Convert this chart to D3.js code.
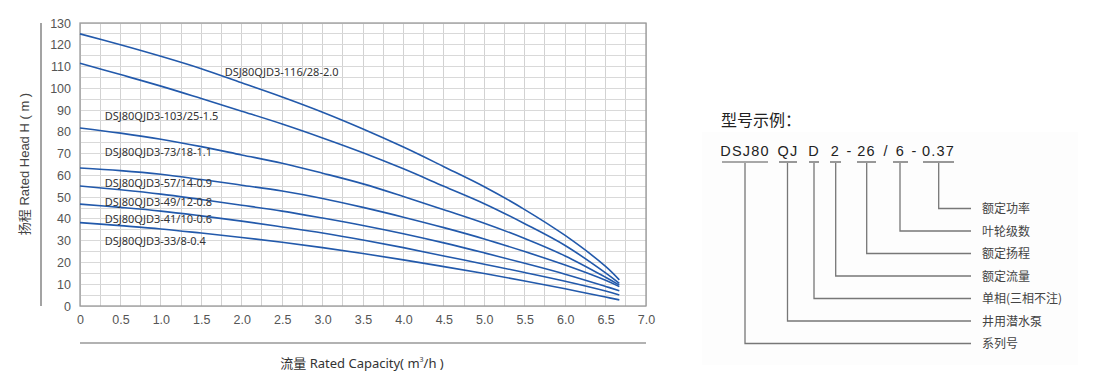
<!DOCTYPE html>
<html>
<head>
<meta charset="utf-8">
<script src="https://cdn.jsdelivr.net/npm/d3@7/dist/d3.min.js"></script>
<style>
  html, body { margin: 0; padding: 0; background: #fff; }
  svg { display: block; }
</style>
</head>
<body>
<svg id="chart" width="1100" height="390"></svg>
<script>
// ---------------- data ----------------
const flow = [0, 0.5, 1.0, 1.5, 2.0, 2.5, 3.0, 3.5, 4.0, 4.5, 5.0, 5.5, 6.0, 6.5, 6.67];
const models = [
  "DSJ80QJD3-116/28-2.0",
  "DSJ80QJD3-103/25-1.5",
  "DSJ80QJD3-73/18-1.1",
  "DSJ80QJD3-57/14-0.9",
  "DSJ80QJD3-49/12-0.8",
  "DSJ80QJD3-41/10-0.6",
  "DSJ80QJD3-33/8-0.4"
];
const head116 = [125, 120, 114.7, 109, 102.5, 96, 89, 81.3, 73, 64, 54.8, 44.3, 32.4, 18.2, 12];
const head103 = [111.5, 106.3, 101, 95.3, 89.5, 83.6, 77.2, 70.4, 63, 55, 47, 37.8, 27.8, 15.2, 10.4];
const head73  = [81.8, 79.4, 76.6, 73.2, 69.4, 65.6, 61, 56.1, 50.3, 44.2, 38, 31, 23, 13.2, 9.6];
const head57  = [63.4, 62.2, 60.5, 58.1, 55.5, 52.8, 49.4, 45.3, 40.8, 36, 30.8, 25, 18.8, 11.8, 8.9];
const head49  = [55.1, 53.4, 51.4, 48.9, 46.3, 43.6, 40.4, 37, 33.2, 29, 24.4, 19.6, 14.6, 9, 7.0];
const head41  = [46.8, 45.3, 43.6, 41.4, 39, 36.3, 33.5, 30.3, 26.8, 23, 19.2, 15.4, 11.4, 6.9, 5.1];
const head33  = [38.3, 36.9, 35.4, 33.5, 31.5, 29.3, 26.8, 24.1, 21.2, 18.1, 14.9, 11.5, 7.9, 4.1, 2.8];
const heads = [head116, head103, head73, head57, head49, head41, head33];

const xTicks = [0, 0.5, 1.0, 1.5, 2.0, 2.5, 3.0, 3.5, 4.0, 4.5, 5.0, 5.5, 6.0, 6.5, 7.0];
const yTicks = [0, 10, 20, 30, 40, 50, 60, 70, 80, 90, 100, 110, 120, 130];
const xTitle = "流量 Rated Capacity( m";
const yTitle = "扬程 Rated Head H ( m )";

const exampleTitle = "型号示例：";
const codeParts = ["DSJ80", "QJ", "D", "2", "26", "6", "0.37"];
const codeSeps = ["-", "/", "-"];
const codeMeanings = ["系列号", "井用潜水泵", "单相(三相不注)", "额定流量", "额定扬程", "叶轮级数", "额定功率"];

// ---------------- layout ----------------
const svg = d3.select("#chart");
const x = d3.scaleLinear().domain([0, 7]).range([80, 646]);
const y = d3.scaleLinear().domain([0, 130]).range([306, 23]);

// grid
const g = svg.append("g");
const xGrid = d3.range(0, 7.001, 0.25);
const yGrid = d3.range(0, 130.001, 5);
g.selectAll("line.vg").data(xGrid).join("line")
  .attr("x1", d => x(d)).attr("x2", d => x(d))
  .attr("y1", y(130)).attr("y2", y(0))
  .attr("stroke", "#d2d2d2").attr("stroke-width", 1).attr("shape-rendering", "crispEdges");
g.selectAll("line.hg").data(yGrid).join("line")
  .attr("x1", x(0)).attr("x2", x(7))
  .attr("y1", d => y(d)).attr("y2", d => y(d))
  .attr("stroke", "#d9d9d9").attr("stroke-width", 1).attr("shape-rendering", "crispEdges");
g.append("rect")
  .attr("x", x(0)).attr("y", y(130))
  .attr("width", x(7) - x(0)).attr("height", y(0) - y(130))
  .attr("fill", "none").attr("stroke", "#9a9a9a").attr("stroke-width", 1.3);

// axes (tick labels only)
const xAxis = d3.axisBottom(x).tickValues(xTicks)
  .tickFormat(d => d === 0 ? "0" : d3.format(".1f")(d)).tickSize(0).tickPadding(9);
const yAxis = d3.axisLeft(y).tickValues(yTicks).tickFormat(d3.format("d")).tickSize(0).tickPadding(9);
const ax = svg.append("g").attr("transform", `translate(0,${y(0)})`).call(xAxis);
const ay = svg.append("g").attr("transform", `translate(${x(0)},0)`).call(yAxis);
[ax, ay].forEach(a => {
  a.select(".domain").remove();
  a.selectAll("text").attr("fill", "#555").attr("font-size", 12.5)
    .attr("font-family", "'Liberation Sans', Arial, sans-serif");
});

// decorative axis lines
svg.append("line").attr("x1", 41).attr("x2", 41).attr("y1", y(130)).attr("y2", y(0))
  .attr("stroke", "#666").attr("stroke-width", 1.2);
svg.append("line").attr("x1", x(0)).attr("x2", x(7)).attr("y1", 343).attr("y2", 343)
  .attr("stroke", "#999").attr("stroke-width", 1.5);

// titles
const xt = svg.append("text").attr("x", 362).attr("y", 368).attr("text-anchor", "middle")
  .attr("font-family", "'Noto Sans', 'Noto Sans CJK SC', sans-serif").attr("font-size", 13).attr("fill", "#333");
xt.append("tspan").text(xTitle);
xt.append("tspan").attr("font-size", 7).attr("dy", -6).text("3");
xt.append("tspan").attr("dy", 6).text("/h )");
svg.append("text").attr("transform", "translate(29,164) rotate(-90)").attr("text-anchor", "middle")
  .attr("font-family", "'Liberation Sans', 'Noto Sans CJK SC', sans-serif").attr("font-size", 13).attr("fill", "#444")
  .text(yTitle);

// curves
const line = d3.line().x((d, i) => x(flow[i])).y(d => y(d)).curve(d3.curveCatmullRom.alpha(0.5));
svg.append("g").selectAll("path").data(heads).join("path")
  .attr("d", line).attr("fill", "none").attr("stroke", "#2259ab").attr("stroke-width", 1.6);

// curve labels (positions in data units)
const labelAt = [[1.79, 107.4], [0.305, 87.4], [0.305, 70.6], [0.305, 56.6], [0.305, 47.9], [0.305, 40.0], [0.305, 30.0]];
svg.append("g").selectAll("text").data(models).join("text")
  .attr("x", (d, i) => x(labelAt[i][0])).attr("y", (d, i) => y(labelAt[i][1]))
  .attr("dy", "0.35em")
  .attr("font-family", "'Noto Sans', 'Open Sans', sans-serif").attr("font-size", 11).attr("fill", "#333")
  .text(d => d);

// ---------------- model code explanation ----------------
const panel = svg.append("g");
panel.append("rect").attr("x", 702).attr("y", 132).attr("width", 376).attr("height", 233).attr("fill", "#fdfdfd");
panel.append("text").attr("x", 721).attr("y", 126).attr("font-family", "'Noto Sans CJK SC', sans-serif")
  .attr("font-size", 16).attr("fill", "#222").text(exampleTitle);

const partX = [[722, 768], [779, 797], [809, 819], [830, 841], [857, 876], [893, 908], [923, 954]];
const sepX = [849, 885.5, 914];
const codeFont = "'Liberation Sans', Arial, sans-serif";
panel.selectAll("text.part").data(codeParts).join("text").attr("class", "part")
  .attr("x", (d, i) => (partX[i][0] + partX[i][1]) / 2).attr("y", 156).attr("text-anchor", "middle")
  .attr("font-family", codeFont).attr("font-size", 14.5).attr("letter-spacing", 1.2).attr("fill", "#222")
  .text(d => d);
panel.selectAll("text.sep").data(codeSeps).join("text").attr("class", "sep")
  .attr("x", (d, i) => sepX[i]).attr("y", 156).attr("text-anchor", "middle")
  .attr("font-family", codeFont).attr("font-size", 14.5).attr("fill", "#222").text(d => d);
panel.selectAll("line.ul").data(partX).join("line").attr("class", "ul")
  .attr("x1", d => d[0]).attr("x2", d => d[1]).attr("y1", 162).attr("y2", 162)
  .attr("stroke", "#555").attr("stroke-width", 1.2);

const stemX = [745, 787.5, 814, 835.7, 866.7, 900, 938.7];
const rowY = d3.scaleLinear().domain([0, 6]).range([343.5, 208.5]);
panel.selectAll("path.lead").data(stemX).join("path").attr("class", "lead")
  .attr("d", (d, i) => `M${d},163V${rowY(i)}H971`)
  .attr("fill", "none").attr("stroke", "#777").attr("stroke-width", 1.3);
panel.selectAll("text.mean").data(codeMeanings).join("text").attr("class", "mean")
  .attr("x", 982).attr("y", (d, i) => rowY(i)).attr("dy", "0.38em")
  .attr("font-family", "'Noto Sans CJK SC', sans-serif").attr("font-size", 12).attr("fill", "#444")
  .text(d => d);
</script>
</body>
</html>
